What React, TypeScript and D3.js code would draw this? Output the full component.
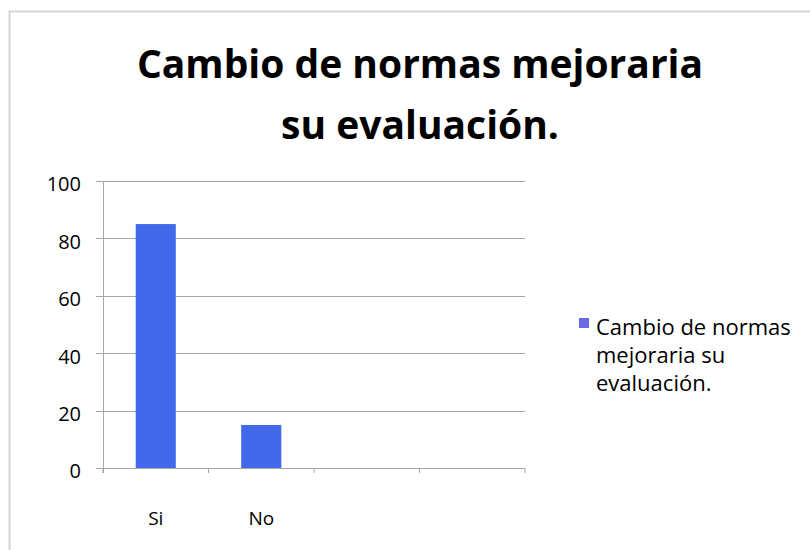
import React from "react";
import * as d3 from "d3";

const categories = ["Si", "No", "", ""];
const values = [85, 15, null, null];
const yTicks = [0, 20, 40, 60, 80, 100];
const titleLines = ["Cambio de normas mejoraria", "su evaluación."];
const legendLines = ["Cambio de normas", "mejoraria su", "evaluación."];

export default function App() {
  const W = 810, H = 550;
  const x = d3.scaleBand<number>().domain(d3.range(categories.length)).range([103, 525]).padding(0);
  const y = d3.scaleLinear().domain([0, 100]).range([468, 181]);
  const barW = x.bandwidth() * 0.38;
  const gridColor = "#a6a6a6";
  const font = "'Open Sans', sans-serif";
  return (
    <svg width={W} height={H} style={{ position: "absolute", left: 0, top: 0, background: "#fff" }}>
      <rect x={0} y={0} width={W} height={H} fill="#fff" />
      <path d={`M9.5,${H} V11.5 H${W}`} fill="none" stroke="#d4d4d4" strokeWidth={2} />
      {titleLines.map((t, i) => (
        <text key={i} x={420} y={78 + i * 61} textAnchor="middle" fontFamily={font} fontWeight={700} fontSize={39} fill="#000">{t}</text>
      ))}
      {yTicks.map((v) => (
        <g key={v}>
          <line x1={96} x2={525} y1={Math.round(y(v)) + 0.5} y2={Math.round(y(v)) + 0.5} stroke={gridColor} strokeWidth={1} />
          <text x={81} y={y(v) + 5} textAnchor="end" dominantBaseline="middle" fontFamily={font} fontSize={20} fill="#000">{v}</text>
        </g>
      ))}
      <line x1={103.5} x2={103.5} y1={y(100)} y2={y(0) + 5} stroke={gridColor} strokeWidth={1} />
      {d3.range(categories.length + 1).map((i) => {
        const xx = 103 + i * x.step();
        return <line key={i} x1={xx} x2={xx} y1={y(0)} y2={y(0) + 5} stroke={gridColor} strokeWidth={1} />;
      })}
      {values.map((v, i) =>
        v == null ? null : (
          <rect key={i} x={(x(i) as number) + (x.bandwidth() - barW) / 2} y={y(v)} width={barW} height={y(0) - y(v)} fill="#4169ea" />
        )
      )}
      {categories.map((c, i) => (
        <text key={i} x={(x(i) as number) + x.bandwidth() / 2} y={525} textAnchor="middle" fontFamily={font} fontSize={19} fill="#000">{c}</text>
      ))}
      <rect x={579} y={318} width={10} height={10} fill="#6b6ae6" />
      {legendLines.map((t, i) => (
        <text key={i} x={596} y={335 + i * 28} fontFamily={font} fontSize={22} fill="#000">{t}</text>
      ))}
    </svg>
  );
}
